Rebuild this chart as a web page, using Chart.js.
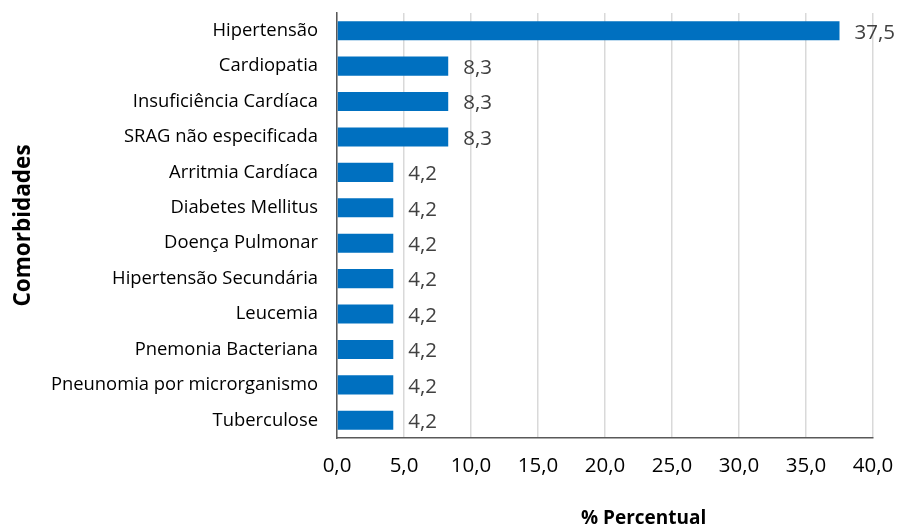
<!DOCTYPE html>
<html>
<head>
<meta charset="utf-8">
<script src="https://cdn.jsdelivr.net/npm/chart.js@4/dist/chart.umd.min.js"></script>
<style>
html,body{margin:0;padding:0;background:#fff;}
#wrap{width:899px;height:530px;position:relative;}
</style>
</head>
<body>
<div id="wrap"><canvas id="c" width="899" height="530"></canvas></div>
<script>
const categories = ["Hipertensão","Cardiopatia","Insuficiência Cardíaca","SRAG não especificada","Arritmia Cardíaca","Diabetes Mellitus","Doença Pulmonar","Hipertensão Secundária","Leucemia","Pnemonia Bacteriana","Pneunomia por microrganismo","Tuberculose"];
const percentValues = [37.5,8.3,8.3,8.3,4.2,4.2,4.2,4.2,4.2,4.2,4.2,4.2];
const valueLabels = ["37,5","8,3","8,3","8,3","4,2","4,2","4,2","4,2","4,2","4,2","4,2","4,2"];
const tickLabels = ["0,0","5,0","10,0","15,0","20,0","25,0","30,0","35,0","40,0"];
const xTitle = "% Percentual";
const yTitle = "Comorbidades";

const FONT = "'Open Sans', sans-serif";

const labelPlugin = {
  id: 'valLabels',
  afterDatasetsDraw(chart) {
    const ctx = chart.ctx;
    const meta = chart.getDatasetMeta(0);
    ctx.save();
    ctx.font = "20.5px " + FONT;
    ctx.fillStyle = "#404040";
    ctx.textAlign = "left";
    ctx.textBaseline = "middle";
    meta.data.forEach((bar, i) => {
      ctx.fillText(valueLabels[i], bar.x + 15, bar.y + 2);
    });
    ctx.restore();
  }
};
const xTitlePlugin = {
  id: 'xTitle',
  afterDraw(chart) {
    const ctx = chart.ctx;
    const a = chart.chartArea;
    ctx.save();
    ctx.font = "bold 19px " + FONT;
    ctx.fillStyle = "#000";
    ctx.textAlign = "center";
    ctx.textBaseline = "middle";
    ctx.fillText(xTitle, a.left + (a.right - a.left) * 0.572, 519);
    ctx.restore();
  }
};

new Chart(document.getElementById('c'), {
  type: 'bar',
  data: {
    labels: categories,
    datasets: [{
      data: percentValues,
      backgroundColor: '#0070C0',
      borderWidth: 0,
      barPercentage: 0.54,
      categoryPercentage: 1.0
    }]
  },
  options: {
    indexAxis: 'y',
    responsive: false,
    animation: false,
    devicePixelRatio: 1,
    layout: { padding: { top: 13, right: 26, bottom: 0, left: 0 } },
    plugins: { legend: { display: false }, tooltip: { enabled: false } },
    scales: {
      x: {
        min: 0, max: 40,
        ticks: {
          stepSize: 5,
          color: '#000',
          font: { family: FONT, size: 20.5 },
          padding: 16,
          maxRotation: 0,
          callback: (v, i) => tickLabels[i]
        },
        grid: { color: '#d9d9d9', lineWidth: 1.5, drawTicks: false },
        border: { color: '#595959', width: 1.5 },
        afterFit(s) { s.height = 92; s.paddingLeft = 0; s.paddingRight = 0; }
      },
      y: {
        ticks: {
          color: '#000',
          font: { family: FONT, size: 18.4 },
          padding: 19
        },
        grid: { display: false, drawTicks: false },
        border: { color: '#595959', width: 1.5 },
        title: {
          display: true,
          text: yTitle,
          color: '#000',
          font: { family: FONT, size: 22.5, weight: 'bold' },
          padding: { top: 10, bottom: 0 }
        },
        afterFit(s) { s.width = 337; s.paddingTop = 0; s.paddingBottom = 0; }
      }
    }
  },
  plugins: [labelPlugin, xTitlePlugin]
});
</script>
</body>
</html>
